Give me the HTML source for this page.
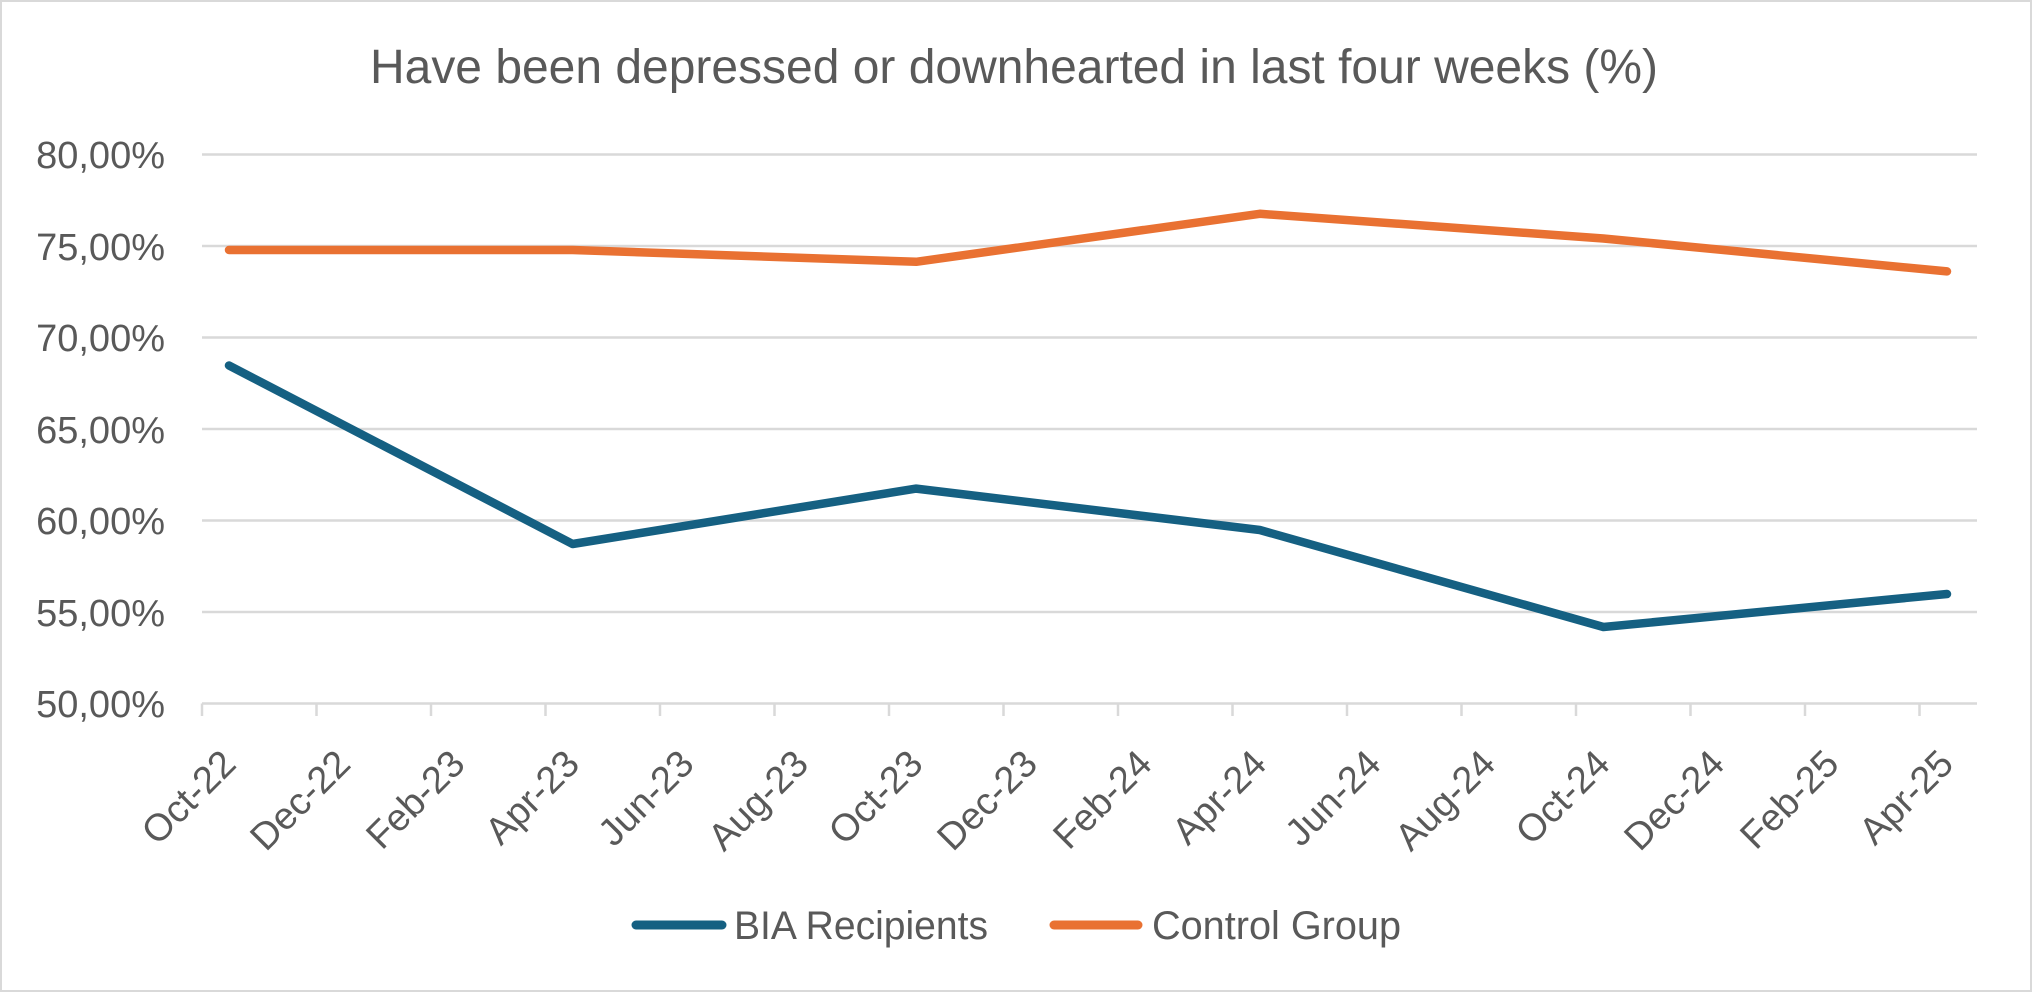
<!DOCTYPE html>
<html><head><meta charset="utf-8"><style>
html,body{margin:0;padding:0;background:#fff;}
svg{display:block;}
text{font-family:"Liberation Sans",sans-serif;fill:#595959;}
</style></head><body>
<svg width="2032" height="992" viewBox="0 0 2032 992" xmlns="http://www.w3.org/2000/svg">
<rect x="1" y="1" width="2030" height="990" fill="#fff" stroke="#d9d9d9" stroke-width="2"/>
<text x="370" y="83" font-size="48" textLength="1288" lengthAdjust="spacingAndGlyphs">Have been depressed or downhearted in last four weeks (%)</text>
<g stroke="#d9d9d9" stroke-width="2.5">
<line x1="202" y1="154.5" x2="1977" y2="154.5"/>
<line x1="202" y1="246" x2="1977" y2="246"/>
<line x1="202" y1="337.5" x2="1977" y2="337.5"/>
<line x1="202" y1="429" x2="1977" y2="429"/>
<line x1="202" y1="520.5" x2="1977" y2="520.5"/>
<line x1="202" y1="612" x2="1977" y2="612"/>
<line x1="202" y1="703.5" x2="1977" y2="703.5"/>
<line x1="202" y1="703.5" x2="202" y2="716"/>
<line x1="316.5" y1="703.5" x2="316.5" y2="716"/>
<line x1="431" y1="703.5" x2="431" y2="716"/>
<line x1="545.5" y1="703.5" x2="545.5" y2="716"/>
<line x1="660" y1="703.5" x2="660" y2="716"/>
<line x1="774.5" y1="703.5" x2="774.5" y2="716"/>
<line x1="889" y1="703.5" x2="889" y2="716"/>
<line x1="1003.5" y1="703.5" x2="1003.5" y2="716"/>
<line x1="1118" y1="703.5" x2="1118" y2="716"/>
<line x1="1232.5" y1="703.5" x2="1232.5" y2="716"/>
<line x1="1347" y1="703.5" x2="1347" y2="716"/>
<line x1="1461.5" y1="703.5" x2="1461.5" y2="716"/>
<line x1="1576" y1="703.5" x2="1576" y2="716"/>
<line x1="1690.5" y1="703.5" x2="1690.5" y2="716"/>
<line x1="1805" y1="703.5" x2="1805" y2="716"/>
<line x1="1919.5" y1="703.5" x2="1919.5" y2="716"/>
</g>
<g font-size="38" text-anchor="end">
<text x="165" y="168">80,00%</text>
<text x="165" y="260">75,00%</text>
<text x="165" y="351">70,00%</text>
<text x="165" y="443">65,00%</text>
<text x="165" y="534">60,00%</text>
<text x="165" y="626">55,00%</text>
<text x="165" y="717">50,00%</text>
</g>
<g font-size="38" text-anchor="end">
<text transform="translate(238,766) rotate(-45)">Oct-22</text>
<text transform="translate(352.5,766) rotate(-45)">Dec-22</text>
<text transform="translate(467,766) rotate(-45)">Feb-23</text>
<text transform="translate(581.5,766) rotate(-45)">Apr-23</text>
<text transform="translate(696,766) rotate(-45)">Jun-23</text>
<text transform="translate(810.5,766) rotate(-45)">Aug-23</text>
<text transform="translate(925,766) rotate(-45)">Oct-23</text>
<text transform="translate(1039.5,766) rotate(-45)">Dec-23</text>
<text transform="translate(1154,766) rotate(-45)">Feb-24</text>
<text transform="translate(1268.5,766) rotate(-45)">Apr-24</text>
<text transform="translate(1383,766) rotate(-45)">Jun-24</text>
<text transform="translate(1497.5,766) rotate(-45)">Aug-24</text>
<text transform="translate(1612,766) rotate(-45)">Oct-24</text>
<text transform="translate(1726.5,766) rotate(-45)">Dec-24</text>
<text transform="translate(1841,766) rotate(-45)">Feb-25</text>
<text transform="translate(1955.5,766) rotate(-45)">Apr-25</text>
</g>
<polyline fill="none" stroke="#E97132" stroke-width="8.5" stroke-linecap="round" stroke-linejoin="round"
 points="229,250 572.6,250 916.2,261.8 1259.8,213.8 1603.4,238.5 1947,271.4"/>
<polyline fill="none" stroke="#156082" stroke-width="8.5" stroke-linecap="round" stroke-linejoin="round"
 points="229,365.5 572.6,544 916.2,488.6 1259.8,530 1603.4,627 1947,594"/>
<line x1="636" y1="925" x2="722" y2="925" stroke="#156082" stroke-width="9" stroke-linecap="round"/>
<text x="734" y="939" font-size="40" textLength="254" lengthAdjust="spacingAndGlyphs">BIA Recipients</text>
<line x1="1054" y1="925" x2="1138" y2="925" stroke="#E97132" stroke-width="9" stroke-linecap="round"/>
<text x="1152" y="939" font-size="40" textLength="249" lengthAdjust="spacingAndGlyphs">Control Group</text>
</svg>
</body></html>
